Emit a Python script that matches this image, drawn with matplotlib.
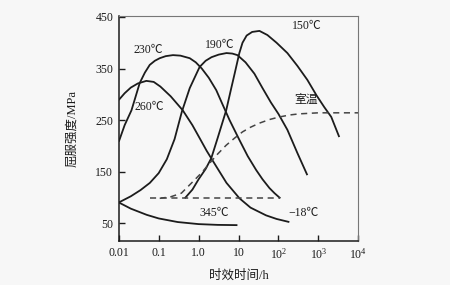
import matplotlib
matplotlib.use("Agg")
import matplotlib.pyplot as plt

plt.rcParams['font.family'] = ['Liberation Serif', 'Noto Sans CJK SC', 'DejaVu Sans']
plt.rcParams['mathtext.fontset'] = 'stix'

# curves (time in h, yield strength in MPa)
t_260 = [0.01, 0.014, 0.02, 0.03, 0.049, 0.075, 0.11, 0.2, 0.4, 0.7, 1.06, 1.6, 2.77, 5.0, 10.6, 20, 49, 90, 188]
s_260 = [289, 302, 313, 321, 326, 324, 315, 296, 269, 240, 215, 190, 160, 128, 98, 80, 65, 58, 52]

t_230 = [0.01, 0.014, 0.0208, 0.0335, 0.045, 0.0596, 0.08, 0.106, 0.15, 0.228, 0.35, 0.6, 0.85, 1.2, 1.8, 2.77,
         4.0, 5.96, 10.6, 17, 27.7, 40, 59.6, 80, 112]
s_230 = [208, 240, 269, 322, 342, 357, 365, 370, 374, 376, 375, 370, 362, 350, 332, 308,
         280, 250, 211, 180, 153, 135, 118, 108, 98]

t_190 = [0.01, 0.02, 0.035, 0.06, 0.1, 0.16, 0.25, 0.38, 0.6, 1.06, 1.5, 2.11, 3.2, 5.0, 7.0, 9.4,
         15, 25, 40, 65, 100, 168, 299, 531]
s_190 = [90, 102, 114, 128, 147, 174, 213, 266, 312, 353, 365, 372, 377, 380, 379, 376,
         362, 340, 312, 284, 262, 231, 186, 143]

t_150 = [0.45, 0.7, 1.0, 1.5, 2.08, 3.0, 4.92, 6.5, 8.0, 10.5, 12.6, 16, 22, 33.5, 53, 90, 168, 300, 531,
         900, 1413, 2113, 3350]
s_150 = [98, 115, 135, 155, 176, 215, 269, 310, 340, 380, 400, 414, 421, 423, 415, 400, 380, 355, 328,
         298, 275, 256, 217]

t_345 = [0.01, 0.02, 0.05, 0.1, 0.3, 1.0, 3.0, 9.4]
s_345 = [90, 78, 66, 59, 52, 48, 46.5, 46]

t_m18 = [0.06, 112]
s_m18 = [98, 98]

t_rt = [0.106, 0.2, 0.37, 0.71, 1.2, 1.88, 3.0, 4.9, 8.0, 12.6, 20, 33.5, 60, 106, 200, 335, 1000, 10000]
s_rt = [98, 101, 108, 130, 148, 166, 184, 201, 215, 227, 236, 244, 251, 256, 260, 262, 264, 264]

xticks = [0.01, 0.1, 1, 10, 100, 1000, 10000]
xticklabels = ['0.01', '0.1', '1.0', '10', r'$\mathregular{10^2}$', r'$\mathregular{10^3}$', r'$\mathregular{10^4}$']
yticks = [50, 150, 250, 350, 450]

bg = '#f7f7f7'
ink = '#1c1c1c'

fig = plt.figure(figsize=(4.5, 2.85), dpi=100, facecolor=bg)
ax = fig.add_axes([0.264, 0.154, 0.532, 0.79], facecolor=bg)

for t, s in [(t_260, s_260), (t_230, s_230), (t_190, s_190), (t_150, s_150), (t_345, s_345)]:
    ax.plot(t, s, color=ink, lw=1.3, solid_capstyle='butt', solid_joinstyle='round')
ax.plot(t_m18, s_m18, color='#444444', lw=1.1, dashes=(4, 3))
ax.plot(t_rt, s_rt, color='#444444', lw=1.1, dashes=(4, 3))

ax.set_xscale('log')
ax.set_xlim(0.01, 10000)
ax.set_ylim(15, 452)
ax.set_xticks(xticks)
ax.set_xticklabels(xticklabels)
ax.minorticks_off()
ax.set_yticks(yticks)
ax.tick_params(direction='in', length=4, width=1, labelsize=8.5, colors=ink, pad=4)

for side in ['top', 'right']:
    ax.spines[side].set_color('#777777')
    ax.spines[side].set_linewidth(0.8)
for side in ['left', 'bottom']:
    ax.spines[side].set_color(ink)
    ax.spines[side].set_linewidth(1.1)

ax.set_xlabel('时效时间/h', fontsize=9, color=ink, labelpad=6)
ax.set_ylabel('屈服强度/MPa', fontsize=9, color=ink, labelpad=12)

lab = dict(fontsize=8.5, color=ink, ha='center', va='center')
ax.text(0.056, 385, '230℃', **lab)
ax.text(3.3, 395, '190℃', **lab)
ax.text(500, 432, '150℃', **lab)
ax.text(0.058, 275, '260℃', **lab)
ax.text(480, 289, '室温', **lab)
ax.text(2.5, 70, '345℃', **lab)
ax.text(420, 70, '−18℃', **lab)

fig.savefig('out.png', dpi=100, facecolor=bg)
